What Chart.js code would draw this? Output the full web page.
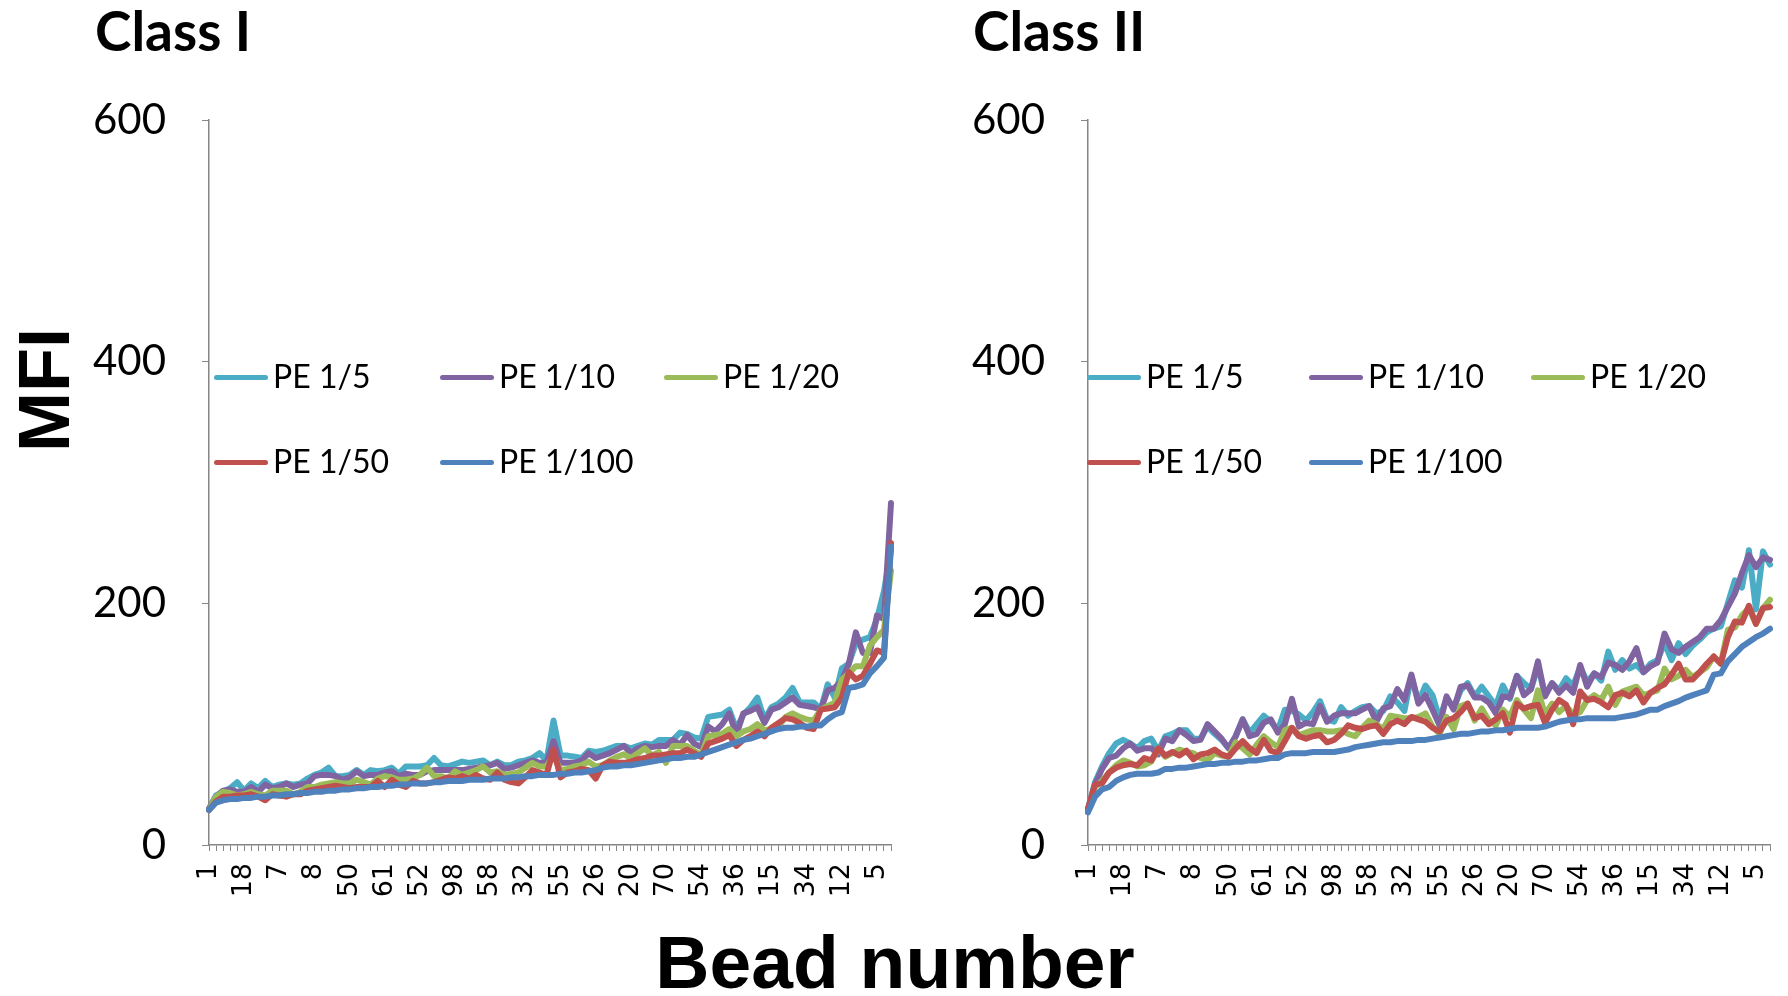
<!DOCTYPE html>
<html>
<head>
<meta charset="utf-8">
<script src="https://cdn.jsdelivr.net/npm/chart.js@4.4.0/dist/chart.umd.min.js"></script>
<style>
  body { margin: 0; background: #fff; }
  #wrap { position: relative; width: 1788px; height: 996px; overflow: hidden; background: #fff; }
  canvas { position: absolute; top: 0; }
  .title { position: absolute; top: 3px; font: bold 55px Lato, sans-serif; line-height: 55px; color: #000; white-space: nowrap; }
  .axisTitle { position: absolute; font-family: "Liberation Sans", Arial, sans-serif; font-weight: bold; line-height: 1; color: #000; white-space: nowrap; }
  .leg { position: absolute; font: 32px Lato, sans-serif; line-height: 32px; color: #000; white-space: nowrap; }
  .legLine { position: absolute; width: 54px; height: 5px; border-radius: 3px; }
</style>
</head>
<body>
<div id="wrap">
  <canvas id="chartI" width="900" height="910" style="left:0px"></canvas>
  <canvas id="chartII" width="900" height="910" style="left:879px"></canvas>
  <div class="title" style="left:95px">Class I</div>
  <div class="title" style="left:973px">Class II</div>
  <div class="axisTitle" style="left:44px; top:390px; font-size:72px; transform: translate(-50%, -50%) rotate(-90deg);">MFI</div>
  <div class="axisTitle" style="left:895px; top:925px; font-size:75px; transform: translateX(-50%);">Bead number</div>
</div>
<script>
// x axis: every 5th bead number is printed
const tickLabels = ['1', '18', '7', '8', '50', '61', '52', '98', '58', '32', '55', '26', '20', '70', '54', '36', '15', '34', '12', '5'];
const beadLabels = [];
for (let i = 0; i < 98; i++) beadLabels.push(i % 5 === 0 ? tickLabels[i / 5] : '');

const seriesNames = ['PE 1/5', 'PE 1/10', 'PE 1/20', 'PE 1/50', 'PE 1/100'];
const seriesColors = ['#4BACC6', '#8064A2', '#9BBB59', '#C0504D', '#4F81BD'];

// Class I
const pe5_I = [30, 41, 44, 47, 52, 45, 51, 47, 53, 48,
  50, 51, 50, 51, 55, 58, 60, 64, 57, 57,
  58, 62, 58, 62, 61, 62, 64, 59, 65, 65,
  65, 66, 72, 66, 65, 67, 69, 68, 69, 70,
  66, 69, 66, 66, 69, 70, 72, 76, 70, 103,
  74, 74, 73, 72, 78, 77, 78, 80, 82, 82,
  80, 82, 84, 83, 87, 87, 87, 93, 92, 89,
  88, 106, 107, 108, 112, 96, 108, 114, 122, 104,
  114, 117, 122, 130, 118, 118, 118, 112, 133, 122,
  146, 150, 167, 170, 172, 187, 210, 245];
const pe10_I = [30, 40, 45, 46, 44, 44, 48, 44, 50, 47,
  48, 51, 48, 50, 51, 57, 58, 58, 57, 54,
  56, 61, 57, 58, 58, 60, 61, 57, 59, 58,
  58, 61, 62, 62, 62, 62, 62, 63, 64, 65,
  66, 68, 63, 64, 66, 68, 70, 68, 68, 86,
  68, 68, 68, 70, 76, 72, 74, 76, 79, 82,
  76, 80, 82, 81, 82, 82, 87, 83, 91, 84,
  81, 98, 94, 100, 109, 91, 109, 111, 114, 101,
  112, 114, 118, 122, 116, 115, 114, 112, 128, 130,
  136, 150, 176, 159, 159, 190, 187, 283];
const pe20_I = [29, 40, 44, 43, 41, 42, 44, 42, 41, 45,
  45, 45, 42, 44, 48, 48, 50, 51, 52, 51,
  51, 54, 52, 50, 55, 57, 56, 54, 54, 55,
  58, 64, 57, 57, 55, 61, 58, 60, 62, 65,
  60, 61, 58, 59, 60, 64, 68, 65, 65, 74,
  62, 63, 65, 66, 69, 65, 66, 70, 73, 75,
  72, 76, 80, 74, 77, 68, 82, 82, 82, 78,
  74, 90, 91, 92, 96, 90, 94, 96, 100, 95,
  96, 98, 106, 109, 106, 104, 103, 112, 115, 118,
  137, 142, 148, 148, 165, 172, 178, 227];
const pe50_I = [29, 36, 40, 40, 41, 41, 42, 40, 37, 42,
  41, 40, 42, 42, 45, 46, 47, 48, 49, 48,
  47, 48, 48, 48, 53, 48, 54, 50, 48, 53,
  51, 51, 52, 54, 56, 55, 57, 55, 58, 55,
  54, 60, 54, 52, 51, 56, 62, 60, 58, 79,
  56, 60, 61, 63, 62, 55, 66, 69, 68, 68,
  69, 71, 72, 74, 74, 75, 76, 76, 79, 76,
  73, 84, 86, 88, 91, 82, 87, 90, 94, 90,
  97, 101, 105, 104, 101, 97, 96, 112, 113, 114,
  122, 143, 137, 140, 150, 161, 159, 250];
const pe100_I = [29, 35, 37, 38, 38, 39, 39, 40, 40, 41,
  41, 42, 42, 43, 43, 44, 44, 45, 45, 46,
  46, 47, 47, 48, 48, 49, 49, 50, 50, 51,
  51, 51, 52, 52, 53, 53, 53, 54, 54, 54,
  55, 55, 55, 56, 56, 57, 57, 58, 58, 58,
  59, 59, 60, 60, 61, 62, 64, 65, 65, 66,
  66, 67, 68, 69, 70, 71, 72, 72, 73, 73,
  75, 77, 79, 81, 83, 85, 87, 88, 90, 92,
  94, 96, 97, 97, 98, 98, 99, 99, 104, 108,
  110, 130, 131, 133, 142, 148, 155, 247];

// Class II
const pe5_II = [30, 52, 65, 76, 84, 87, 84, 80, 86, 88,
  78, 90, 92, 95, 95, 88, 88, 98, 92, 87,
  80, 90, 104, 93, 100, 107, 102, 95, 112, 111,
  108, 103, 110, 119, 104, 102, 114, 107, 111, 114,
  115, 109, 111, 123, 118, 111, 140, 118, 132, 124,
  104, 122, 113, 128, 134, 123, 131, 123, 115, 132,
  121, 140, 134, 129, 148, 124, 134, 128, 138, 132,
  147, 135, 142, 136, 160, 145, 153, 146, 149, 143,
  150, 153, 167, 153, 167, 158, 165, 170, 176, 179,
  181, 200, 219, 213, 244, 195, 243, 232];
const pe10_II = [30, 50, 63, 72, 74, 80, 84, 78, 80, 80,
  75, 88, 86, 95, 91, 86, 87, 100, 94, 88,
  80, 90, 104, 90, 92, 101, 104, 93, 100, 121,
  98, 101, 100, 115, 102, 107, 109, 109, 109, 112,
  115, 102, 113, 115, 129, 120, 141, 117, 124, 112,
  99, 123, 112, 131, 132, 122, 122, 118, 109, 123,
  122, 140, 124, 129, 152, 123, 134, 126, 132, 126,
  149, 131, 142, 139, 151, 149, 145, 152, 163, 143,
  148, 151, 175, 162, 159, 164, 168, 172, 179, 179,
  186, 197, 208, 225, 240, 230, 238, 236];
const pe20_II = [28, 48, 53, 60, 66, 70, 68, 65, 66, 69,
  80, 73, 76, 79, 77, 76, 72, 70, 76, 74,
  73, 85, 80, 75, 83, 90, 85, 81, 95, 97,
  91, 93, 95, 95, 94, 94, 95, 92, 90, 97,
  103, 100, 96, 107, 106, 105, 105, 106, 109, 98,
  92, 106, 96, 115, 117, 103, 113, 103, 99, 112,
  106, 120, 112, 105, 128, 108, 117, 110, 115, 108,
  110, 120, 124, 120, 131, 116, 127, 129, 131, 124,
  126, 128, 146, 137, 140, 145, 139, 143, 147, 156,
  150, 178, 180, 190, 196, 183, 196, 203];
const pe50_II = [30, 50, 51, 60, 64, 66, 67, 66, 72, 70,
  80, 74, 77, 74, 78, 71, 75, 76, 79, 75,
  73, 80, 86, 80, 76, 87, 78, 76, 86, 97,
  90, 88, 90, 91, 85, 87, 92, 99, 97, 96,
  98, 99, 92, 100, 103, 100, 106, 104, 102, 97,
  94, 103, 105, 110, 117, 105, 107, 100, 104, 109,
  93, 117, 113, 115, 116, 101, 112, 120, 116, 100,
  127, 120, 121, 118, 114, 124, 126, 123, 128, 118,
  126, 130, 133, 141, 150, 137, 137, 143, 150, 156,
  150, 172, 185, 184, 198, 183, 196, 197];
const pe100_II = [27, 40, 46, 48, 53, 56, 58, 59, 59, 59,
  60, 63, 63, 64, 64, 65, 66, 67, 67, 68,
  68, 69, 69, 70, 70, 71, 72, 72, 75, 76,
  76, 76, 77, 77, 77, 77, 78, 79, 81, 82,
  83, 84, 85, 85, 86, 86, 86, 87, 87, 88,
  89, 90, 91, 92, 92, 93, 94, 94, 95, 95,
  96, 97, 97, 97, 97, 98, 100, 102, 103, 104,
  104, 105, 105, 105, 105, 105, 106, 107, 108, 110,
  112, 112, 115, 117, 119, 122, 124, 126, 128, 141,
  142, 152, 158, 164, 168, 172, 175, 179];

const yTicks = [0, 200, 400, 600];

function makeChart(id, seriesData) {
  const datasets = seriesData.map((d, k) => ({
    label: seriesNames[k],
    data: d,
    borderColor: seriesColors[k],
    backgroundColor: seriesColors[k],
    borderWidth: 6,
    pointRadius: 0,
    tension: 0,
    borderJoinStyle: 'round',
    borderCapStyle: 'round',
    fill: false,
    order: seriesData.length - k, // last series drawn on top, like Excel
  }));
  return new Chart(document.getElementById(id), {
    type: 'line',
    data: { labels: beadLabels, datasets: datasets },
    options: {
      responsive: false,
      animation: false,
      layout: { padding: { left: 0, right: 9, top: 120, bottom: 0 } },
      plugins: { legend: { display: false }, tooltip: { enabled: false } },
      scales: {
        x: {
          grid: { drawOnChartArea: false, drawTicks: true, tickLength: 6, color: '#868686' },
          border: { color: '#868686', width: 1.5 },
          ticks: {
            autoSkip: false, minRotation: 90, maxRotation: 90, padding: 12,
            color: '#000', font: { family: 'DejaVu Sans', size: 27 },
          },
          afterFit: (s) => {
            s.height = 65;
            // no extra room for the rotated end labels
            s.paddingLeft = 0;
            s.paddingRight = 0;
          },
        },
        y: {
          min: yTicks[0], max: yTicks[yTicks.length - 1],
          ticks: { stepSize: 200, padding: 36, color: '#000', font: { family: 'Lato', size: 42 } },
          grid: { drawOnChartArea: false, tickLength: 7, color: '#868686' },
          border: { color: '#868686', width: 1.5 },
          afterFit: (s) => { s.width = 209; },
        },
      },
    },
  });
}

// legends sit inside the plot area
function makeLegend(cols, rows) {
  const wrap = document.getElementById('wrap');
  seriesNames.forEach((name, k) => {
    const x = cols[k % 3];
    const y = rows[Math.floor(k / 3)];
    const line = document.createElement('div');
    line.className = 'legLine';
    line.style.left = x + 'px';
    line.style.top = (y - 2.5) + 'px';
    line.style.background = seriesColors[k];
    wrap.appendChild(line);
    const txt = document.createElement('div');
    txt.className = 'leg';
    txt.textContent = name;
    txt.style.left = (x + 59) + 'px';
    txt.style.top = (y - 17) + 'px';
    wrap.appendChild(txt);
  });
}

Promise.all([
  document.fonts.load('42px Lato'),
  document.fonts.load('bold 55px Lato'),
  document.fonts.load('27px "DejaVu Sans"'),
]).catch(() => {}).then(() => {
  makeChart('chartI', [pe5_I, pe10_I, pe20_I, pe50_I, pe100_I]);
  makeChart('chartII', [pe5_II, pe10_II, pe20_II, pe50_II, pe100_II]);
  makeLegend([214, 440, 664], [377, 462]);
  makeLegend([1087, 1309, 1531], [377, 462]);
});
</script>
</body>
</html>
